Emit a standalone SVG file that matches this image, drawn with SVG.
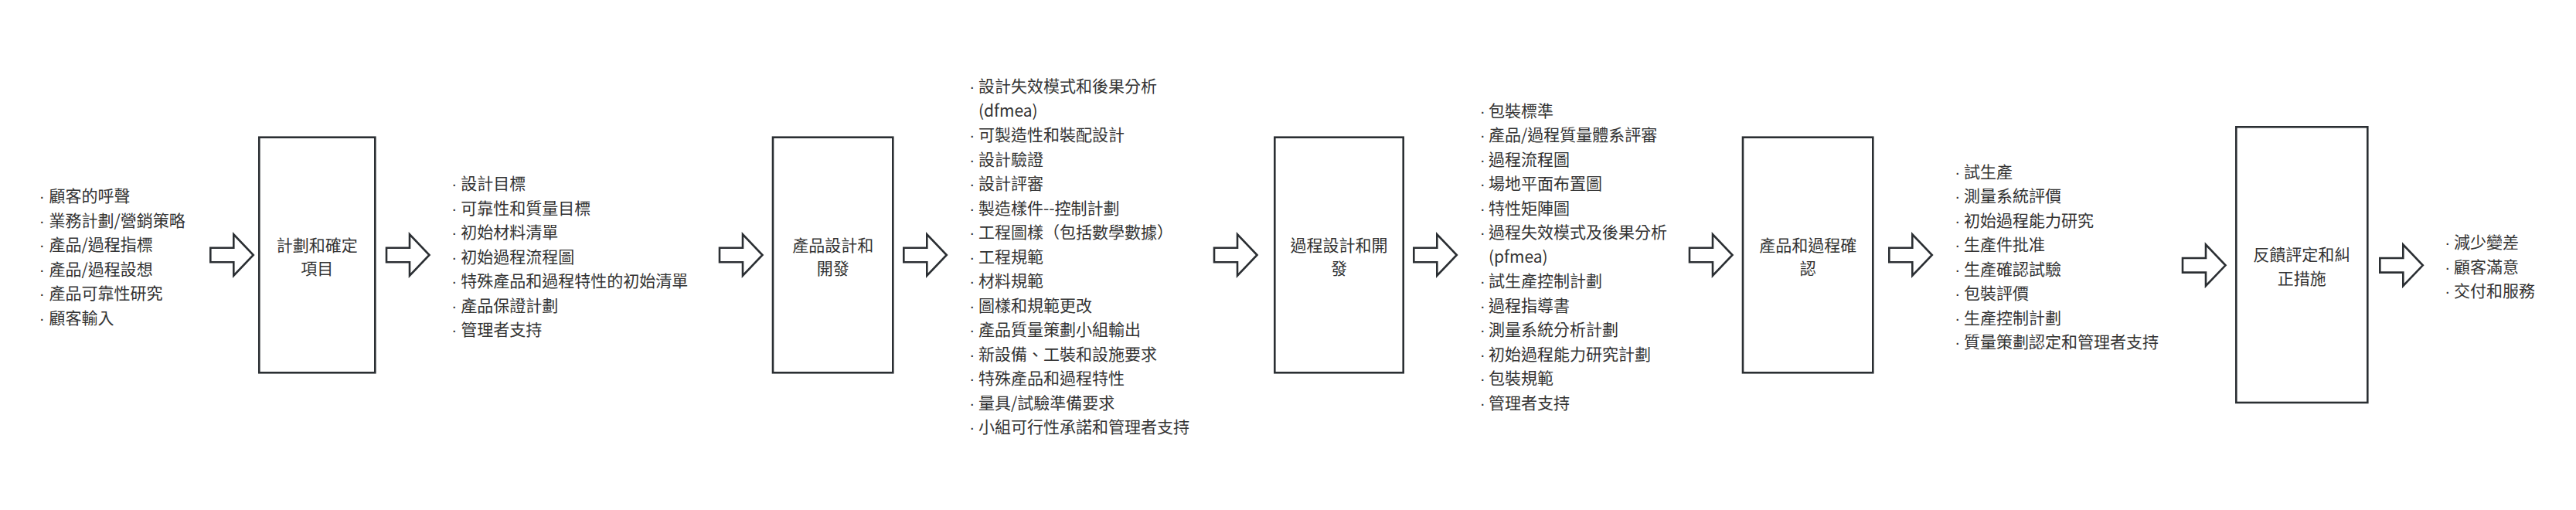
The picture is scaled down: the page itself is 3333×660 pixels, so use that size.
<svg xmlns="http://www.w3.org/2000/svg" xmlns:xlink="http://www.w3.org/1999/xlink" width="3333" height="660" viewBox="0 0 3333 660">
<style>
.box{fill:#ffffff;stroke:#2b2f33;stroke-width:2.6}
.arr{fill:#ffffff;stroke:#2b2f33;stroke-width:2.6;stroke-linejoin:miter}
text{font-family:"Noto Sans CJK TC","Noto Sans CJK SC",sans-serif;font-size:21px;fill:#333333}
.bt{font-family:"Liberation Sans",sans-serif}
.c{text-anchor:middle}
</style>
<defs>
<path id="arrow" d="M0,-9.3 H30 V-26.7 L55.5,0 L30,26.7 V9.3 H0 Z"/>
</defs>
<rect width="3333" height="660" fill="#ffffff"/>

<g id="connectors">
<use xlink:href="#arrow" href="#arrow" class="arr" x="272.3" y="330"/>
<use xlink:href="#arrow" href="#arrow" class="arr" x="500" y="330"/>
<use xlink:href="#arrow" href="#arrow" class="arr" x="931" y="330"/>
<use xlink:href="#arrow" href="#arrow" class="arr" x="1169.3" y="330"/>
<use xlink:href="#arrow" href="#arrow" class="arr" x="1571" y="330"/>
<use xlink:href="#arrow" href="#arrow" class="arr" x="1829.3" y="330"/>
<use xlink:href="#arrow" href="#arrow" class="arr" x="2186" y="330"/>
<use xlink:href="#arrow" href="#arrow" class="arr" x="2444.3" y="330"/>
<use xlink:href="#arrow" href="#arrow" class="arr" x="2824" y="343.3"/>
<use xlink:href="#arrow" href="#arrow" class="arr" x="3079.3" y="343.3"/>
</g>

<g id="inputs">
<text>
<tspan class="bt" x="50.8" y="261">·</tspan><tspan x="63.6" y="261">顧客的呼聲</tspan>
<tspan class="bt" x="50.8" y="292.5">·</tspan><tspan x="63.6" y="292.5">業務計劃/營銷策略</tspan>
<tspan class="bt" x="50.8" y="324">·</tspan><tspan x="63.6" y="324">產品/過程指標</tspan>
<tspan class="bt" x="50.8" y="355.5">·</tspan><tspan x="63.6" y="355.5">產品/過程設想</tspan>
<tspan class="bt" x="50.8" y="387">·</tspan><tspan x="63.6" y="387">產品可靠性研究</tspan>
<tspan class="bt" x="50.8" y="418.5">·</tspan><tspan x="63.6" y="418.5">顧客輸入</tspan>
</text>
</g>

<g id="node-plan">
<rect class="box" x="335.3" y="177.7" width="150" height="304.6"/>
<text class="c"><tspan x="410.3" y="324.7">計劃和確定</tspan><tspan x="410.3" y="354.7">項目</tspan></text>
</g>

<g id="outputs-plan">
<text>
<tspan class="bt" x="584.2" y="245.2">·</tspan><tspan x="596.3" y="245.2">設計目標</tspan>
<tspan class="bt" x="584.2" y="276.7">·</tspan><tspan x="596.3" y="276.7">可靠性和質量目標</tspan>
<tspan class="bt" x="584.2" y="308.2">·</tspan><tspan x="596.3" y="308.2">初始材料清單</tspan>
<tspan class="bt" x="584.2" y="339.7">·</tspan><tspan x="596.3" y="339.7">初始過程流程圖</tspan>
<tspan class="bt" x="584.2" y="371.2">·</tspan><tspan x="596.3" y="371.2">特殊產品和過程特性的初始清單</tspan>
<tspan class="bt" x="584.2" y="402.7">·</tspan><tspan x="596.3" y="402.7">產品保證計劃</tspan>
<tspan class="bt" x="584.2" y="434.2">·</tspan><tspan x="596.3" y="434.2">管理者支持</tspan>
</text>
</g>

<g id="node-product-design">
<rect class="box" x="1000" y="177.7" width="155.3" height="304.6"/>
<text class="c"><tspan x="1077.7" y="324.7">產品設計和</tspan><tspan x="1077.7" y="354.7">開發</tspan></text>
</g>

<g id="outputs-product-design">
<text>
<tspan class="bt" x="1254.2" y="119.2">·</tspan><tspan x="1266" y="119.2">設計失效模式和後果分析</tspan>
<tspan x="1266" y="150.7">(dfmea)</tspan>
<tspan class="bt" x="1254.2" y="182.2">·</tspan><tspan x="1266" y="182.2">可製造性和裝配設計</tspan>
<tspan class="bt" x="1254.2" y="213.7">·</tspan><tspan x="1266" y="213.7">設計驗證</tspan>
<tspan class="bt" x="1254.2" y="245.2">·</tspan><tspan x="1266" y="245.2">設計評審</tspan>
<tspan class="bt" x="1254.2" y="276.7">·</tspan><tspan x="1266" y="276.7">製造樣件--控制計劃</tspan>
<tspan class="bt" x="1254.2" y="308.2">·</tspan><tspan x="1266" y="308.2">工程圖樣（包括數學數據）</tspan>
<tspan class="bt" x="1254.2" y="339.7">·</tspan><tspan x="1266" y="339.7">工程規範</tspan>
<tspan class="bt" x="1254.2" y="371.2">·</tspan><tspan x="1266" y="371.2">材料規範</tspan>
<tspan class="bt" x="1254.2" y="402.7">·</tspan><tspan x="1266" y="402.7">圖樣和規範更改</tspan>
<tspan class="bt" x="1254.2" y="434.2">·</tspan><tspan x="1266" y="434.2">產品質量策劃小組輸出</tspan>
<tspan class="bt" x="1254.2" y="465.7">·</tspan><tspan x="1266" y="465.7">新設備、工裝和設施要求</tspan>
<tspan class="bt" x="1254.2" y="497.2">·</tspan><tspan x="1266" y="497.2">特殊產品和過程特性</tspan>
<tspan class="bt" x="1254.2" y="528.7">·</tspan><tspan x="1266" y="528.7">量具/試驗準備要求</tspan>
<tspan class="bt" x="1254.2" y="560.2">·</tspan><tspan x="1266" y="560.2">小組可行性承諾和管理者支持</tspan>
</text>
</g>

<g id="node-process-design">
<rect class="box" x="1649.3" y="177.7" width="166.4" height="304.6"/>
<text class="c"><tspan x="1732.5" y="324.7">過程設計和開</tspan><tspan x="1732.5" y="354.7">發</tspan></text>
</g>

<g id="outputs-process-design">
<text>
<tspan class="bt" x="1914.8" y="150.7">·</tspan><tspan x="1926" y="150.7">包裝標準</tspan>
<tspan class="bt" x="1914.8" y="182.2">·</tspan><tspan x="1926" y="182.2">產品/過程質量體系評審</tspan>
<tspan class="bt" x="1914.8" y="213.7">·</tspan><tspan x="1926" y="213.7">過程流程圖</tspan>
<tspan class="bt" x="1914.8" y="245.2">·</tspan><tspan x="1926" y="245.2">場地平面布置圖</tspan>
<tspan class="bt" x="1914.8" y="276.7">·</tspan><tspan x="1926" y="276.7">特性矩陣圖</tspan>
<tspan class="bt" x="1914.8" y="308.2">·</tspan><tspan x="1926" y="308.2">過程失效模式及後果分析</tspan>
<tspan x="1926" y="339.7">(pfmea)</tspan>
<tspan class="bt" x="1914.8" y="371.2">·</tspan><tspan x="1926" y="371.2">試生產控制計劃</tspan>
<tspan class="bt" x="1914.8" y="402.7">·</tspan><tspan x="1926" y="402.7">過程指導書</tspan>
<tspan class="bt" x="1914.8" y="434.2">·</tspan><tspan x="1926" y="434.2">測量系統分析計劃</tspan>
<tspan class="bt" x="1914.8" y="465.7">·</tspan><tspan x="1926" y="465.7">初始過程能力研究計劃</tspan>
<tspan class="bt" x="1914.8" y="497.2">·</tspan><tspan x="1926" y="497.2">包裝規範</tspan>
<tspan class="bt" x="1914.8" y="528.7">·</tspan><tspan x="1926" y="528.7">管理者支持</tspan>
</text>
</g>

<g id="node-validation">
<rect class="box" x="2255" y="177.7" width="168.3" height="304.6"/>
<text class="c"><tspan x="2339.2" y="324.7">產品和過程確</tspan><tspan x="2339.2" y="354.7">認</tspan></text>
</g>

<g id="outputs-validation">
<text>
<tspan class="bt" x="2529.2" y="229.5">·</tspan><tspan x="2541" y="229.5">試生產</tspan>
<tspan class="bt" x="2529.2" y="261">·</tspan><tspan x="2541" y="261">測量系統評價</tspan>
<tspan class="bt" x="2529.2" y="292.5">·</tspan><tspan x="2541" y="292.5">初始過程能力研究</tspan>
<tspan class="bt" x="2529.2" y="324">·</tspan><tspan x="2541" y="324">生產件批准</tspan>
<tspan class="bt" x="2529.2" y="355.5">·</tspan><tspan x="2541" y="355.5">生產確認試驗</tspan>
<tspan class="bt" x="2529.2" y="387">·</tspan><tspan x="2541" y="387">包裝評價</tspan>
<tspan class="bt" x="2529.2" y="418.5">·</tspan><tspan x="2541" y="418.5">生產控制計劃</tspan>
<tspan class="bt" x="2529.2" y="450">·</tspan><tspan x="2541" y="450">質量策劃認定和管理者支持</tspan>
</text>
</g>

<g id="node-feedback">
<rect class="box" x="2893.3" y="164.3" width="170" height="356.7"/>
<text class="c"><tspan x="2978.3" y="337">反饋評定和糾</tspan><tspan x="2978.3" y="368">正措施</tspan></text>
</g>

<g id="outputs-feedback">
<text>
<tspan class="bt" x="3163.2" y="321.2">·</tspan><tspan x="3175" y="321.2">減少變差</tspan>
<tspan class="bt" x="3163.2" y="352.7">·</tspan><tspan x="3175" y="352.7">顧客滿意</tspan>
<tspan class="bt" x="3163.2" y="384.2">·</tspan><tspan x="3175" y="384.2">交付和服務</tspan>
</text>
</g>
</svg>
